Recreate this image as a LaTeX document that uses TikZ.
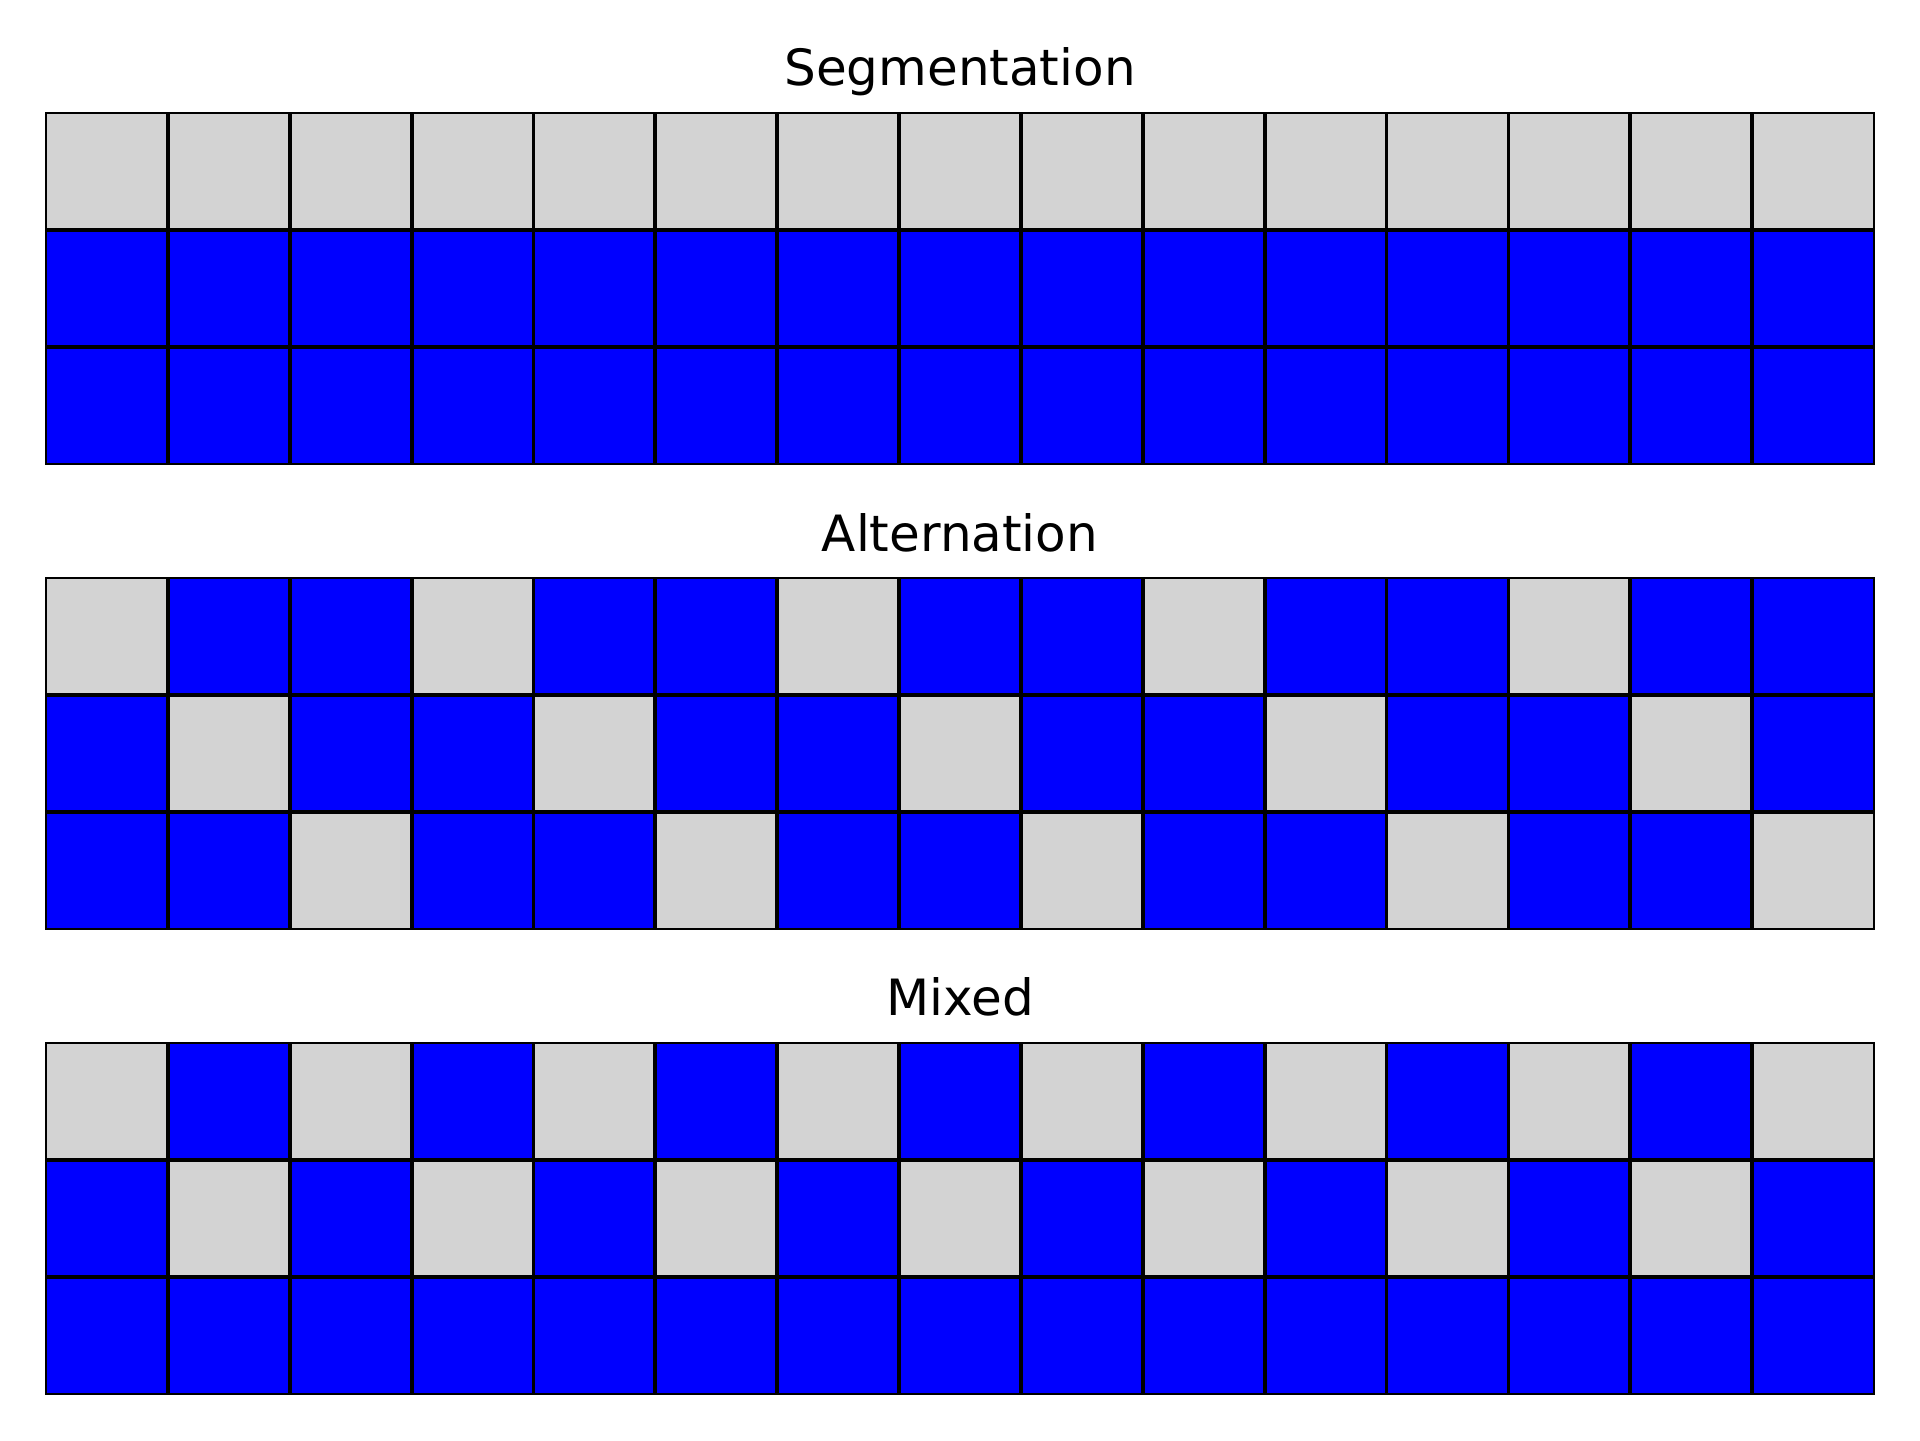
\documentclass[tikz,border=0pt]{standalone}
\usepackage{fontspec}
\setmainfont{DejaVu Sans}
\usetikzlibrary{positioning}
\definecolor{cellgray}{HTML}{D3D3D3}
\definecolor{cellblue}{HTML}{0000FF}

\begin{document}
\begin{tikzpicture}[
  x=0.5pt, y=-0.5pt,
  gridline/.style={draw=black, line width=1.9pt},
  frame/.style={draw=black, line width=1pt},
  title/.style={font=\fontsize{25}{30}\selectfont, anchor=base, inner sep=0pt}
]
\useasboundingbox (0,0) rectangle (1920,1440);

% Panels: 0 = segmentation, 1 = alternation, 2 = mixed
\foreach \top/\kind/\name in {112.7/0/Segmentation, 578/1/Alternation, 1042.7/2/Mixed} {
  % Title
  \node[title] (title\kind) at (960,\top-27) {\name};

  % Cells
  \foreach \r in {0,1,2} {
    \foreach \c in {0,...,14} {
      \pgfmathtruncatemacro\isgray{\kind==0 ? (\r==0) : (\kind==1 ? (mod(\c,3)==\r) : ((\r<2) && (mod(\c+\r,2)==0)))}
      \ifnum\isgray=1 \def\cellcol{cellgray}\else\def\cellcol{cellblue}\fi
      \fill[\cellcol] (46+\c*121.87,\top+\r*117.1) rectangle ++(121.87,117.1);
    }
  }

  % Grid
  \foreach \c in {1,...,14}
    \draw[gridline] (46+\c*121.87,\top) -- ++(0,351.3);
  \foreach \r in {1,2}
    \draw[gridline] (46,\top+\r*117.1) -- ++(1828,0);
  \draw[frame] (46,\top) rectangle ++(1828,351.3);
}

\end{tikzpicture}
\end{document}
